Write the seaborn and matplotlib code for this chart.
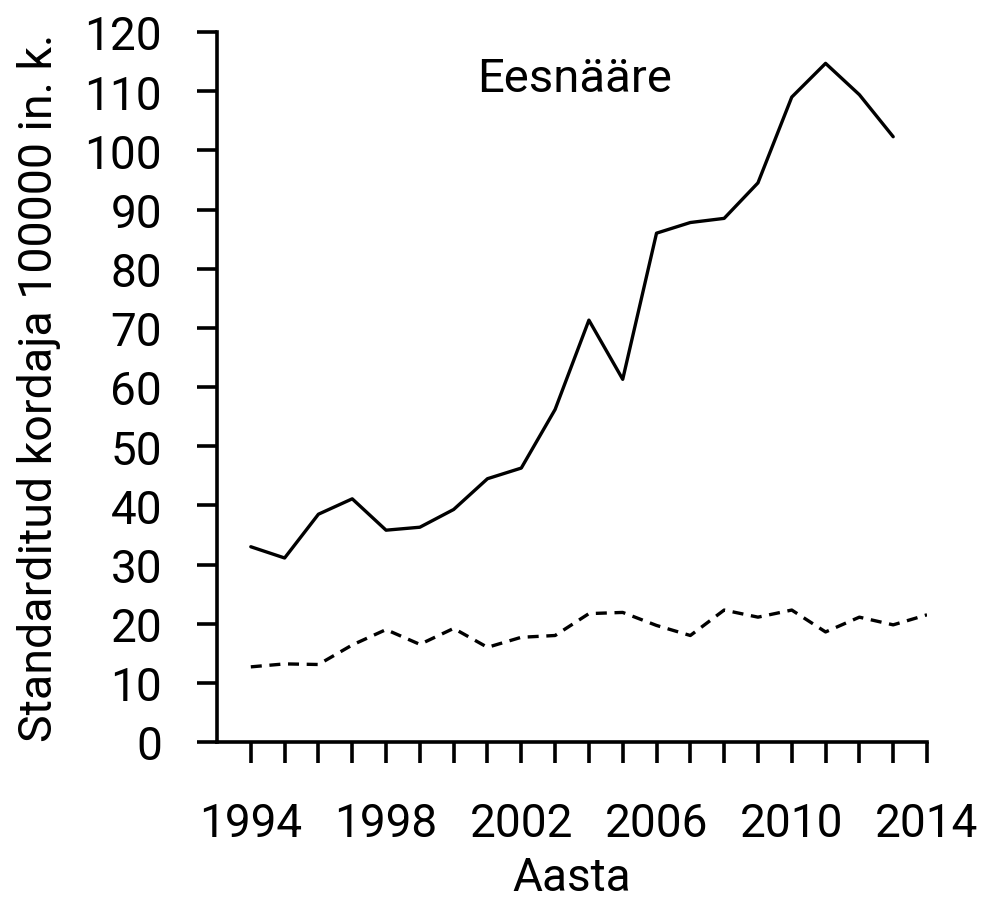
import numpy as np
import pandas as pd
import matplotlib
matplotlib.use("Agg")
import matplotlib.pyplot as plt
import seaborn as sns

# values
years = list(range(1994, 2015))
eesnaare = [33.0, 31.1, 38.5, 41.1, 35.8, 36.3, 39.3, 44.5, 46.3, 56.2, 71.3,
            61.3, 86.0, 87.8, 88.5, 94.5, 109.0, 114.7, 109.4, 102.3, np.nan]
vordlus = [12.7, 13.2, 13.1, 16.4, 19.0, 16.5, 19.2, 16.0, 17.7, 18.0, 21.7,
           21.9, 19.7, 18.0, 22.3, 21.1, 22.3, 18.6, 21.1, 19.8, 21.5]
y_ticks = list(range(0, 121, 10))
x_labels = [1994, 1998, 2002, 2006, 2010, 2014]

df = pd.DataFrame({
    "Aasta": years * 2,
    "kordaja": eesnaare + vordlus,
    "seeria": ["Eesnääre"] * len(years) + ["võrdlus"] * len(years),
}).dropna()

sns.set_style("ticks")
plt.rcParams["font.family"] = ["Roboto", "DejaVu Sans"]

fig = plt.figure(figsize=(9.85, 9.03), dpi=100)
ax = fig.add_axes([217 / 985, 1 - 743 / 903, 710 / 985, 710 / 903])

sns.lineplot(data=df, x="Aasta", y="kordaja", style="seeria",
             dashes={"Eesnääre": "", "võrdlus": (3.3, 2.3)},
             color="black", linewidth=2.4, legend=False, ax=ax)

ax.set_xlim(1993, 2014)
ax.set_ylim(0, 120)
ax.set_xticks(years)
ax.set_xticklabels([str(y) if y in x_labels else "" for y in years])
ax.set_yticks(y_ticks)
ax.set_yticklabels([str(v) for v in y_ticks])

for side in ["top", "right"]:
    ax.spines[side].set_visible(False)
for side in ["left", "bottom"]:
    ax.spines[side].set_linewidth(2.6)
    ax.spines[side].set_color("black")

ax.tick_params(axis="x", length=15, width=2.6, pad=27.5, labelsize=33,
               colors="black")
ax.tick_params(axis="y", length=14.5, width=2.6, pad=25, labelsize=33,
               colors="black")

ax.set_xlabel("Aasta", fontsize=33, labelpad=7, color="black")
ax.set_ylabel("Standarditud kordaja 100000 in. k.", fontsize=33.5,
              labelpad=17, color="black")

ax.text(0.504, 0.917, "Eesnääre", transform=ax.transAxes, ha="center",
        va="baseline", fontsize=34, color="black")

fig.savefig("out.png", dpi=100)
